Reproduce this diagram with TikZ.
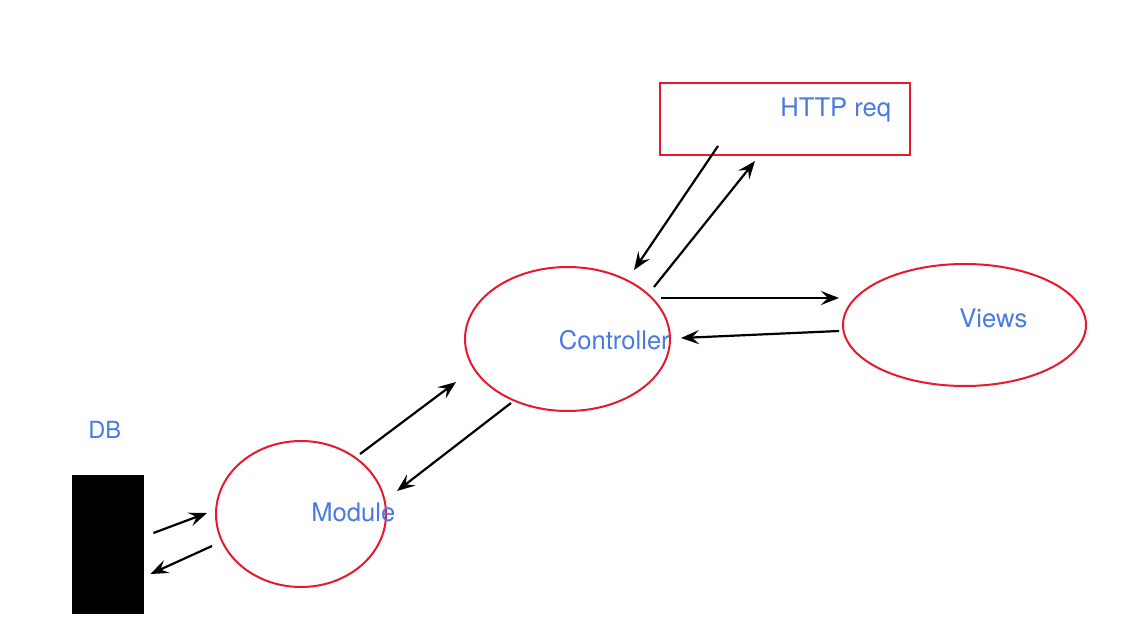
\documentclass[tikz,border=0pt]{standalone}
\usepackage{fontspec}
\setmainfont{TeX Gyre Heros}
\usetikzlibrary{shapes, arrows.meta, positioning}

\definecolor{boxred}{RGB}{232,24,46}
\definecolor{textblue}{RGB}{72,122,226}

\begin{document}
\begin{tikzpicture}[
    x=0.5pt, y=-0.5pt,
    part/.style={ellipse, draw=boxred, line width=1pt, inner sep=0pt},
    box/.style={rectangle, draw=boxred, line width=1pt, inner sep=0pt},
    lbl/.style={anchor=base west, text=textblue, font=\fontsize{12.8}{15}\selectfont, inner sep=0pt},
    arrow/.style={-{Stealth[length=9pt, width=7pt, inset=3.5pt]}, line width=1.1pt}
]
\useasboundingbox (0,0) rectangle (1127,620);

% Request
\node[box, minimum width=125pt, minimum height=36pt] (http) at (785,119) {};
\node[lbl] (httptext) at ([shift={(-5,-2)}]http.center) {HTTP req};

% Controller
\node[part, minimum width=102.5pt, minimum height=72pt] (ctrl) at (567.5,339) {};
\node[lbl] (ctrltext) at ([shift={(-9,10)}]ctrl.center) {Controller};

% Views
\node[part, minimum width=121.5pt, minimum height=61pt] (views) at (964.5,325) {};
\node[lbl] (viewstext) at ([shift={(-5.5,2)}]views.center) {Views};

% Module
\node[part, minimum width=85pt, minimum height=73pt] (module) at (301,514) {};
\node[lbl] (moduletext) at ([shift={(10,7)}]module.center) {Module};

% Database
\node[rectangle, fill=black, inner sep=0pt, minimum width=36pt, minimum height=69.5pt] (db) at (108,544.5) {};
\node[lbl, font=\fontsize{11.8}{14}\selectfont] (dbtext) at ([shift={(-20,-36)}]db.north) {DB};

% Arrows
\draw[arrow] ([shift={(-67,-10)}]http.south) -- ([shift={(66.5,4)}]ctrl.north);
\draw[arrow] ([shift={(86.5,21)}]ctrl.north) -- ([shift={(-30,5)}]http.south);
\draw[arrow] ([shift={(-10,-41)}]ctrl.east) -- ([shift={(-3,-27)}]views.west);
\draw[arrow] ([shift={(-3,6)}]views.west) -- ([shift={(10,-1)}]ctrl.east);
\draw[arrow] ([shift={(59,14)}]module.north) -- ([shift={(-8,43)}]ctrl.west);
\draw[arrow] ([shift={(-56.5,-9)}]ctrl.south) -- ([shift={(10,-23)}]module.east);
\draw[arrow] ([shift={(9,-11.5)}]db.east) -- ([shift={(-8,-1)}]module.west);
\draw[arrow] ([shift={(-3,32)}]module.west) -- ([shift={(6,29.5)}]db.east);

\end{tikzpicture}
\end{document}
